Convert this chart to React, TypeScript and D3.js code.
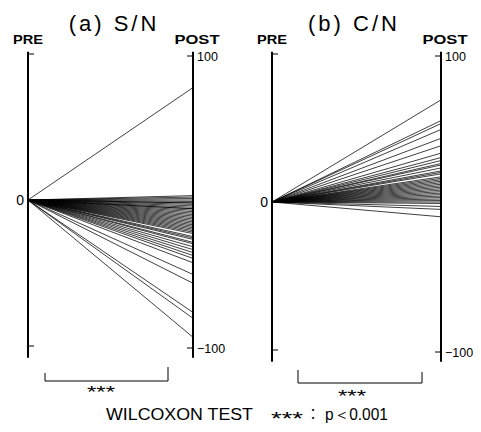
import * as d3 from 'd3';

// % change from PRE (0) to POST for every subject
const snPost = [77, 3, 2, 1, 0, -1, -2, -2, -3, -4, -5, -6, -6, -7, -8, -9, -10, -11, -12, -13, -14, -15, -16, -17, -18, -19, -20, -21, -22, -23, -25, -26, -27, -29, -30, -32, -34, -36, -38, -40, -43, -51, -57, -77, -81, -94];
const cnPost = [69, 55, 53, 49, 43, 38, 33, 30, 28, 26, 25, 23, 21, 20, 19, 17, 16, 15, 14, 13, 12, 11, 10, 9, 8, 7, 6, 5, 4, 3, 2, 1, 0, -1, -3, -5, -10];
const stages = ['PRE', 'POST'];
const axisTicks = [100, -100];

const SANS = "'Liberation Sans', Arial, sans-serif";
const CJK = "'Noto Sans CJK JP', 'Liberation Sans', sans-serif";

type PanelProps = {
  title: string;
  post: number[];
  xl: number;
  xr: number;
  y100: number;
  yM100: number;
  titleX: number;
};

const Panel = ({ title, post, xl, xr, y100, yM100, titleX }: PanelProps) => {
  const x = d3.scalePoint<string>().domain(stages).range([xl, xr]);
  const y = d3.scaleLinear().domain([-100, 100]).range([yM100, y100]);
  const line = d3
    .line<[string, number]>()
    .x((d) => x(d[0]) as number)
    .y((d) => y(d[1]));
  const top = y(101.5);
  const bottom = y(-108);

  return (
    <g>
      <text
        x={titleX}
        y={31}
        textAnchor="middle"
        fontSize={22}
        letterSpacing={3}
        fontFamily={SANS}
      >
        {title}
      </text>
      {post.map((v, i) => (
        <path
          key={i}
          d={line([['PRE', 0], ['POST', v]]) as string}
          fill="none"
          stroke="#000"
          strokeWidth={0.75}
        />
      ))}
      {stages.map((s) => (
        <g key={s}>
          <line x1={x(s)} x2={x(s)} y1={top} y2={bottom} stroke="#000" strokeWidth={2} />
          <text
            x={(x(s) as number) + (s === 'POST' ? 4 : 0)}
            y={44}
            textAnchor="middle"
            fontSize={12.5}
            fontWeight="bold"
            textLength={s === 'POST' ? 45 : 30}
            lengthAdjust="spacingAndGlyphs"
            fontFamily={SANS}
          >
            {s}
          </text>
        </g>
      ))}
      {axisTicks.map((t) => (
        <g key={t}>
          <line x1={xl} x2={xl + 6} y1={y(t)} y2={y(t)} stroke="#000" strokeWidth={1} />
          <line x1={xr - 6} x2={xr} y1={y(t) + 2} y2={y(t) + 2} stroke="#000" strokeWidth={1} />
          <text x={xr + 4} y={y(t) + 3} dy="0.35em" fontSize={12.5} fontFamily={SANS}>
            {t === 100 ? '100' : '\u2212100'}
          </text>
        </g>
      ))}
      <text x={xl - 4} y={y(0)} dy="0.35em" textAnchor="end" fontSize={14} fontFamily={SANS}>
        0
      </text>
    </g>
  );
};

type BracketProps = { x1: number; x2: number; yb: number; ylt: number; yrt: number; sx: number; sy: number };

const Bracket = ({ x1, x2, yb, ylt, yrt, sx, sy }: BracketProps) => (
  <g>
    <path d={`M${x1},${ylt}V${yb}H${x2}V${yrt}`} fill="none" stroke="#000" strokeWidth={1} />
    <text
      x={sx - 14}
      y={sy + 9}
      fontSize={16}
      textLength={28}
      lengthAdjust="spacingAndGlyphs"
      fontFamily={SANS}
    >
      ***
    </text>
  </g>
);

const App = () => {
  return (
    <svg
      width={481}
      height={432}
      style={{ position: 'absolute', left: 0, top: 0, background: '#fff' }}
    >
      <Panel title="(a) S/N" post={snPost} xl={28} xr={193} y100={54} yM100={346} titleX={114} />
      <Panel title="(b) C/N" post={cnPost} xl={272} xr={441} y100={54} yM100={350} titleX={354} />
      <Bracket x1={45} x2={168} yb={381} ylt={373} yrt={367} sx={101} sy={389} />
      <Bracket x1={298} x2={422} yb={383} ylt={370} yrt={372} sx={352} sy={393} />
      <text x={106} y={420} fontSize={16} textLength={147} lengthAdjust="spacingAndGlyphs" fontFamily={SANS}>
        WILCOXON TEST
      </text>
      <text x={271} y={425} fontSize={18} textLength={32} lengthAdjust="spacingAndGlyphs" fontFamily={SANS}>
        ***
      </text>
      <text x={306} y={419} fontSize={14} fontFamily={CJK}>
        ：
      </text>
      <text x={325} y={420} fontSize={16} textLength={63} lengthAdjust="spacingAndGlyphs" fontFamily={SANS}>
        p＜0.001
      </text>
    </svg>
  );
};

export default App;
